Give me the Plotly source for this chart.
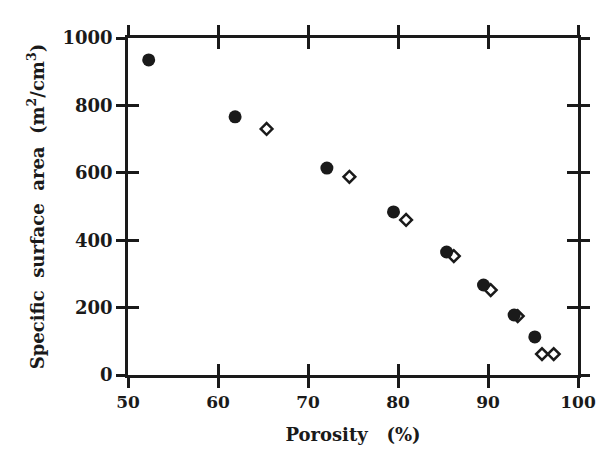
import plotly.graph_objects as go

# Filled circles series
por_filled = [52.3, 61.9, 72.1, 79.5, 85.4, 89.5, 92.9, 95.2]
ssa_filled = [935, 766, 614, 484, 365, 267, 178, 113]
# Open diamonds series
por_open = [65.4, 74.6, 80.9, 86.2, 90.3, 93.3, 96.0, 97.3]
ssa_open = [730, 588, 460, 353, 252, 175, 62, 62]

x_ticks = [50, 60, 70, 80, 90, 100]
y_ticks = [0, 200, 400, 600, 800, 1000]

FONT = "DejaVu Serif"
INK = "#1a1a1a"

fig = go.Figure()
fig.add_trace(go.Scatter(x=por_open, y=ssa_open, mode="markers",
                         marker=dict(symbol="diamond-open", size=9, color=INK,
                                     line=dict(width=2.5, color=INK)),
                         showlegend=False))
fig.add_trace(go.Scatter(x=por_filled, y=ssa_filled, mode="markers",
                         marker=dict(symbol="circle", size=13, color=INK),
                         showlegend=False))
# invisible trace for inside-tick axes
fig.add_trace(go.Scatter(x=[50], y=[0], xaxis="x2", yaxis="y2", mode="markers",
                         marker=dict(opacity=0), showlegend=False, hoverinfo="skip"))

axis_common = dict(showgrid=False, zeroline=False, showline=True, linewidth=2.5,
                   linecolor=INK, tickcolor=INK, tickwidth=2.5)

# page body has a default 8px margin, so the figure is sized to fit inside the window
fig.update_layout(
    width=600, height=451,
    margin=dict(l=120, r=25, t=30, b=84),
    paper_bgcolor="white", plot_bgcolor="white",
    font=dict(family=FONT, color=INK),
    xaxis=dict(range=[50, 100], tickvals=x_ticks, ticks="outside", ticklen=10,
               mirror="ticks",
               tickfont=dict(size=17, family=FONT, weight="bold"),
               title=dict(text="Porosity   (%)", font=dict(size=18, family=FONT, weight="bold"),
                          standoff=18),
               **axis_common),
    yaxis=dict(range=[0, 1000], tickvals=y_ticks, ticks="outside", ticklen=9,
               mirror="ticks",
               tickfont=dict(size=18, family=FONT, weight="bold"),
               title=dict(text="Specific  surface  area  (m<sup>2</sup>/cm<sup>3</sup>)",
                          font=dict(size=18, family=FONT, weight="bold"), standoff=14),
               **axis_common),
    xaxis2=dict(range=[50, 100], tickvals=x_ticks, ticks="inside", ticklen=11,
                mirror="ticks", overlaying="x", showticklabels=False, **axis_common),
    yaxis2=dict(range=[0, 1000], tickvals=y_ticks, ticks="inside", ticklen=11,
                mirror="ticks", overlaying="y", showticklabels=False, **axis_common),
)

fig.write_html("out.html")
